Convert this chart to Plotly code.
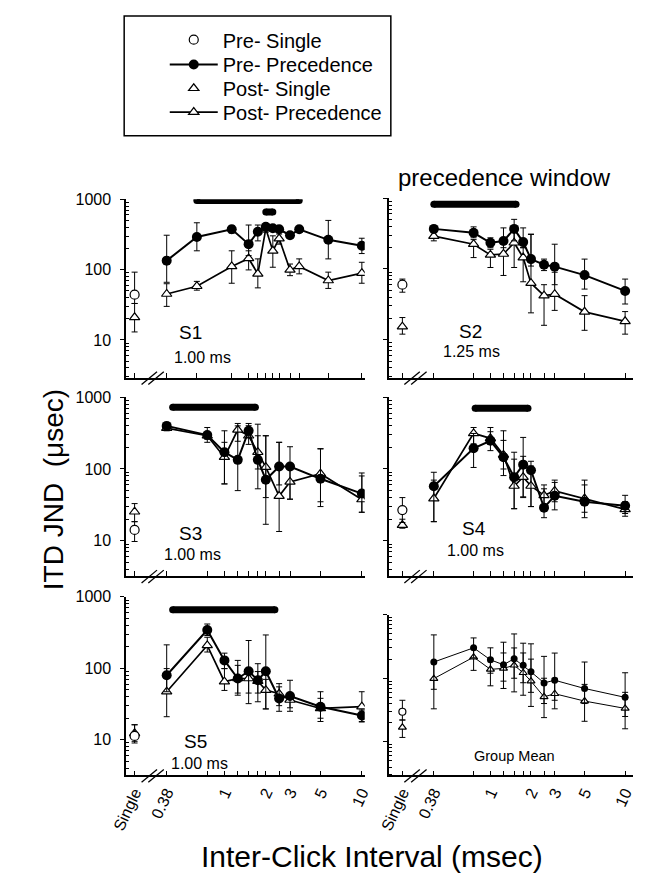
import plotly.graph_objects as go

W, H = 650, 877
FONT = "Liberation Sans, Arial, Helvetica, sans-serif"

# ---------------- data ----------------
single_x = 0.222
x_std = [0.38, 0.75, 1, 1.25, 1.5, 1.75, 2, 2.5, 3, 5, 10]
x_s1 = [0.38, 0.63, 1.13, 1.5, 1.75, 2.0, 2.25, 2.5, 3.0, 3.5, 5.7, 10]

x_ticklabels = {0.222: "Single", 0.38: "0.38", 1: "1", 2: "2", 3: "3", 5: "5", 10: "10"}

# S1
s1_pre = [134, 291, 374, 230, 346, 407, 387, 374, 308, 374, 265, 218]
s1_pre_hi = [308, 463, 420, 430, 430, 440, 420, 410, 340, 410, 500, 279]
s1_pre_lo = [66, 185, 330, 158, 256, 370, 350, 340, 280, 340, 142, 169]
s1_post = [45, 58, 111, 144, 87, 382, 185, 276, 99, 111, 70, 89]
s1_post_hi = [63, 68, 185, 185, 142, 420, 302, 320, 120, 142, 92, 127]
s1_post_lo = [30, 51, 64, 99, 55, 340, 108, 230, 82, 87, 54, 64]
s1_single_pre = [44, 92, 33]
s1_single_post = [21, 33, 13]
s1_window = [(0.63, 3.5, 960), (2.0, 2.25, 656)]

# S2
s2_pre = [369, 325, 235, 248, 369, 240, 138, 115, 108, 82, 49]
s2_pre_hi = [400, 394, 276, 381, 503, 381, 311, 138, 224, 138, 72]
s2_pre_lo = [340, 276, 200, 200, 250, 200, 110, 95, 60, 52, 32]
s2_post = [292, 224, 158, 163, 235, 145, 63, 42, 44, 24.8, 18.2]
s2_post_hi = [325, 260, 190, 260, 381, 200, 308, 60, 90, 42, 25]
s2_post_lo = [250, 145, 105, 81, 105, 66, 24, 16, 26, 13.6, 12]
s2_single_pre = [60, 72, 47]
s2_single_post = [15.3, 20.6, 12]
s2_window = [(0.38, 1.55, 823)]

# S3
s3_pre = [398, 296, 171, 134, 340, 134, 71, 108, 108, 73, 45.5]
s3_pre_hi = [420, 378, 340, 398, 430, 420, 290, 235, 204, 190, 88]
s3_pre_lo = [375, 235, 62, 50, 275, 53, 17, 60, 38, 30, 25]
s3_post = [370, 290, 146, 351, 290, 171, 106, 42, 66, 86, 37.6]
s3_post_hi = [400, 320, 235, 430, 400, 290, 290, 235, 110, 192, 80]
s3_post_lo = [340, 260, 62, 243, 220, 100, 40, 13.5, 38, 35, 25]
s3_single_pre = [14.2, 18.5, 9.8]
s3_single_post = [25.4, 33, 18.5]
s3_window = [(0.42, 1.68, 724)]

# S4
s4_pre = [57.4, 194, 247, 146, 77, 115, 96, 29, 42.3, 35, 30.8]
s4_pre_hi = [90, 312, 378, 340, 171, 275, 128, 53, 70, 70, 43]
s4_pre_lo = [18.5, 105, 180, 81, 28, 41, 30, 21, 27, 21, 24]
s4_post = [38.8, 313, 267, 157, 58, 77, 58, 43, 49.5, 38.8, 27.4]
s4_post_hi = [70, 378, 330, 250, 137, 150, 110, 60, 65, 60, 35]
s4_post_lo = [18.5, 223, 225, 100, 28, 40, 30, 30, 35, 25, 22]
s4_single_pre = [26.8, 40, 18]
s4_single_post = [16.6, 20, 15]
s4_window = [(0.77, 1.9, 700)]

# S5
s5_pre = [80, 344, 129, 72, 91, 68, 91, 37.8, 41, 29, 21.8]
s5_pre_hi = [213, 417, 163, 129, 245, 116, 293, 61, 68, 47, 26]
s5_pre_lo = [47, 288, 99, 42, 32, 34, 27, 25, 25, 18, 17.7]
s5_post = [47, 209, 65, 72, 72, 66, 49.5, 44, 36, 27.4, 29]
s5_post_hi = [99, 272, 99, 110, 100, 90, 70, 55, 45, 38, 47]
s5_post_lo = [21, 169, 49, 45, 45, 45, 27, 30, 28, 20, 18]
s5_single_pre = [11.3, 16.2, 9]
s5_single_post = [12.3, 16.2, 9.5]
s5_window = [(0.42, 2.33, 660)]

# Group mean
gm_pre = [180, 301, 195, 163, 203, 160, 126, 84.5, 93, 69, 50]
gm_pre_hi = [481, 431, 301, 369, 498, 356, 348, 221, 249, 180, 122]
gm_pre_lo = [67, 210, 120, 90, 100, 85, 60, 40, 45, 40, 25]
gm_post = [98.6, 215, 138, 143, 160, 122, 90, 51, 57, 43.7, 33.5]
gm_post_hi = [180, 300, 200, 250, 300, 250, 200, 100, 100, 80, 60]
gm_post_lo = [33, 133, 76, 69, 61, 54, 36, 24, 33, 21, 16]
gm_single_pre = [29.7, 45, 22]
gm_single_post = [16.9, 22, 11.7]
gm_window = []

# ---------------- layout geometry (pixels) ----------------
def fx(p):
    return p / W

def fy(p):
    return 1 - p / H

col_dom = {0: (115, 362), 1: (387.3, 640)}
col_rng = {0: [-0.7155, 1.021], 1: [-0.7516, 1.061]}

panels = [
    dict(x=x_s1, pre=s1_pre, pre_hi=s1_pre_hi, pre_lo=s1_pre_lo, post=s1_post, post_hi=s1_post_hi,
         post_lo=s1_post_lo, sp=s1_single_pre, sq=s1_single_post, win=s1_window, col=0,
         ydom=(193, 373), yrng=[0.465, 3], big=True,
         labels=[("S1", 182, 327, 19), ("1.00 ms", 194, 353, 16)]),
    dict(x=x_std, pre=s2_pre, pre_hi=s2_pre_hi, pre_lo=s2_pre_lo, post=s2_post, post_hi=s2_post_hi,
         post_lo=s2_post_lo, sp=s2_single_pre, sq=s2_single_post, win=s2_window, col=1,
         ydom=(192, 373), yrng=[0.465, 3], big=True,
         labels=[("S2", 471, 326, 19), ("1.25 ms", 473, 347, 16)]),
    dict(x=x_std, pre=s3_pre, pre_hi=s3_pre_hi, pre_lo=s3_pre_lo, post=s3_post, post_hi=s3_post_hi,
         post_lo=s3_post_lo, sp=s3_single_pre, sq=s3_single_post, win=s3_window, col=0,
         ydom=(392.7, 573.3), yrng=[0.51, 3], big=True,
         labels=[("S3", 182, 530, 19), ("1.00 ms", 184, 552, 16)]),
    dict(x=x_std, pre=s4_pre, pre_hi=s4_pre_hi, pre_lo=s4_pre_lo, post=s4_post, post_hi=s4_post_hi,
         post_lo=s4_post_lo, sp=s4_single_pre, sq=s4_single_post, win=s4_window, col=1,
         ydom=(392.7, 573.3), yrng=[0.51, 3], big=True,
         labels=[("S4", 475, 525, 19), ("1.00 ms", 477, 547, 16)]),
    dict(x=x_std, pre=s5_pre, pre_hi=s5_pre_hi, pre_lo=s5_pre_lo, post=s5_post, post_hi=s5_post_hi,
         post_lo=s5_post_lo, sp=s5_single_pre, sq=s5_single_post, win=s5_window, col=0,
         ydom=(594.3, 774.5), yrng=[0.5, 3], big=True,
         labels=[("S5", 187, 740, 19), ("1.00 ms", 191, 762, 16)]),
    dict(x=x_std, pre=gm_pre, pre_hi=gm_pre_hi, pre_lo=gm_pre_lo, post=gm_post, post_hi=gm_post_hi,
         post_lo=gm_post_lo, sp=gm_single_pre, sq=gm_single_post, win=gm_window, col=1,
         ydom=(612.3, 774.5), yrng=[0.47, 3], big=False,
         labels=[("Group Mean", 517, 755, 14.5)]),
]

minor_y = [m * 10 ** e for e in range(0, 3) for m in range(2, 10)]

fig = go.Figure()
annotations = []
shapes = []


def err(v, hi, lo):
    return dict(type="data", symmetric=False,
                array=[max(h - a, 0) for a, h in zip(v, hi)],
                arrayminus=[max(a - l, 0) for a, l in zip(v, lo)],
                color="black", thickness=1, width=3)


for i, p in enumerate(panels):
    n = i + 1
    xa = "x" if n == 1 else f"x{n}"
    ya = "y" if n == 1 else f"y{n}"
    big = p["big"]
    msize = 10 if big else 7
    tsize = 9 if big else 7
    lw = 2 if big else 1
    first = (i == 0)

    # precedence window bars
    for (x0, x1, yv) in p["win"]:
        fig.add_trace(go.Scatter(x=[x0, x1], y=[yv, yv], xaxis=xa, yaxis=ya, mode="lines+markers",
                                 line=dict(color="black", width=7),
                                 marker=dict(size=7, color="black"),
                                 showlegend=False, hoverinfo="skip"))

    # post precedence
    fig.add_trace(go.Scatter(x=p["x"], y=p["post"], xaxis=xa, yaxis=ya, mode="lines+markers",
                             name="Post- Precedence", legend="legend4", showlegend=first,
                             line=dict(color="black", width=1.7 if big else 1),
                             marker=dict(symbol="triangle-up", size=tsize, color="white",
                                         line=dict(color="black", width=1.2)),
                             error_y=err(p["post"], p["post_hi"], p["post_lo"])))
    # pre precedence
    fig.add_trace(go.Scatter(x=p["x"], y=p["pre"], xaxis=xa, yaxis=ya, mode="lines+markers",
                             name="Pre- Precedence", legend="legend2", showlegend=first,
                             line=dict(color="black", width=lw),
                             marker=dict(symbol="circle", size=msize, color="black"),
                             error_y=err(p["pre"], p["pre_hi"], p["pre_lo"])))
    # singles
    sp, sq = p["sp"], p["sq"]
    fig.add_trace(go.Scatter(x=[single_x], y=[sq[0]], xaxis=xa, yaxis=ya, mode="markers",
                             name="Post- Single", legend="legend3", showlegend=first,
                             marker=dict(symbol="triangle-up", size=tsize, color="white",
                                         line=dict(color="black", width=1.2)),
                             error_y=err([sq[0]], [sq[1]], [sq[2]])))
    fig.add_trace(go.Scatter(x=[single_x], y=[sp[0]], xaxis=xa, yaxis=ya, mode="markers",
                             name="Pre- Single", legend="legend", showlegend=first,
                             marker=dict(symbol="circle", size=msize - 1 if big else 7, color="white",
                                         line=dict(color="black", width=1.2)),
                             error_y=err([sp[0]], [sp[1]], [sp[2]])))

    # axes
    col = p["col"]
    bottom_row = i >= 4
    tv = [single_x] + list(p["x"])
    tt = [x_ticklabels.get(v, "") if bottom_row else "" for v in tv]
    d0, d1 = col_dom[col]
    y0, y1 = p["ydom"]
    xaxis = dict(type="log", domain=[fx(d0), fx(d1)], range=col_rng[col], anchor=ya,
                 showline=True, linecolor="black", linewidth=1.5, showgrid=False, zeroline=False,
                 tickmode="array", tickvals=tv, ticktext=tt, ticks="inside", ticklen=5,
                 tickcolor="black", tickwidth=1, tickangle=-65,
                 tickfont=dict(family=FONT, size=16, color="black"))
    yaxis = dict(type="log", domain=[fy(y1), fy(y0)], range=p["yrng"], anchor=xa,
                 showline=True, linecolor="black", linewidth=1.5, showgrid=False, zeroline=False,
                 tickmode="array", tickvals=[10, 100, 1000],
                 ticktext=["10", "100", "1000"], showticklabels=(col == 0),
                 ticks="outside", ticklen=4, tickcolor="black", tickwidth=1,
                 ticklabelstandoff=6,
                 tickfont=dict(family=FONT, size=16, color="black"),
                 minor=dict(tickmode="array", tickvals=minor_y, ticks="inside", ticklen=3,
                            tickcolor="black", tickwidth=1))
    fig.layout["xaxis" if n == 1 else f"xaxis{n}"] = xaxis
    fig.layout["yaxis" if n == 1 else f"yaxis{n}"] = yaxis

    for (txt, cx, cy, fs) in p["labels"]:
        annotations.append(dict(text=txt, x=fx(cx), y=fy(cy), xref="paper", yref="paper",
                                showarrow=False, xanchor="center", yanchor="middle",
                                font=dict(family=FONT, size=fs, color="black")))

    # axis break marks
    yb = y1
    if col == 0:
        xs = [139, 146]
    else:
        xs = [411, 418]
    for cx in xs:
        shapes.append(dict(type="line", xref="paper", yref="paper",
                           x0=fx(cx - 8), y0=fy(yb + 7), x1=fx(cx + 8), y1=fy(yb - 6),
                           line=dict(color="black", width=1.3)))

# legend border box
shapes.append(dict(type="rect", xref="paper", yref="paper", x0=fx(113), x1=fx(389),
                   y0=fy(129), y1=fy(8), line=dict(color="black", width=1.5)))

annotations.append(dict(text="precedence window", x=fx(507), y=fy(171), xref="paper", yref="paper",
                        showarrow=False, xanchor="center", yanchor="middle",
                        font=dict(family=FONT, size=24, color="black")))
annotations.append(dict(text="ITD JND  (\u03bcsec)", x=fx(40), y=fy(486), xref="paper", yref="paper",
                        showarrow=False, xanchor="center", yanchor="middle", textangle=-90,
                        font=dict(family=FONT, size=28, color="black")))
annotations.append(dict(text="Inter-Click Interval (msec)", x=fx(370), y=fy(856), xref="paper",
                        yref="paper", showarrow=False, xanchor="center", yanchor="middle",
                        font=dict(family=FONT, size=30, color="black")))

legend_rows = {"legend": 32, "legend2": 57, "legend3": 81, "legend4": 105}
leg_common = dict(xanchor="left", yanchor="middle", bgcolor="rgba(0,0,0,0)", borderwidth=0,
                  itemwidth=48, font=dict(family=FONT, size=20, color="black"))
legends = {k: dict(x=fx(155), y=fy(v), **leg_common) for k, v in legend_rows.items()}

fig.update_layout(
    width=W, height=H, margin=dict(l=0, r=0, t=0, b=0),
    paper_bgcolor="white", plot_bgcolor="white",
    font=dict(family=FONT, color="black"),
    annotations=annotations, shapes=shapes,
    **legends,
)

fig.write_html("out.html", config={"displayModeBar": False},
               post_script="document.body.style.margin='0';")
